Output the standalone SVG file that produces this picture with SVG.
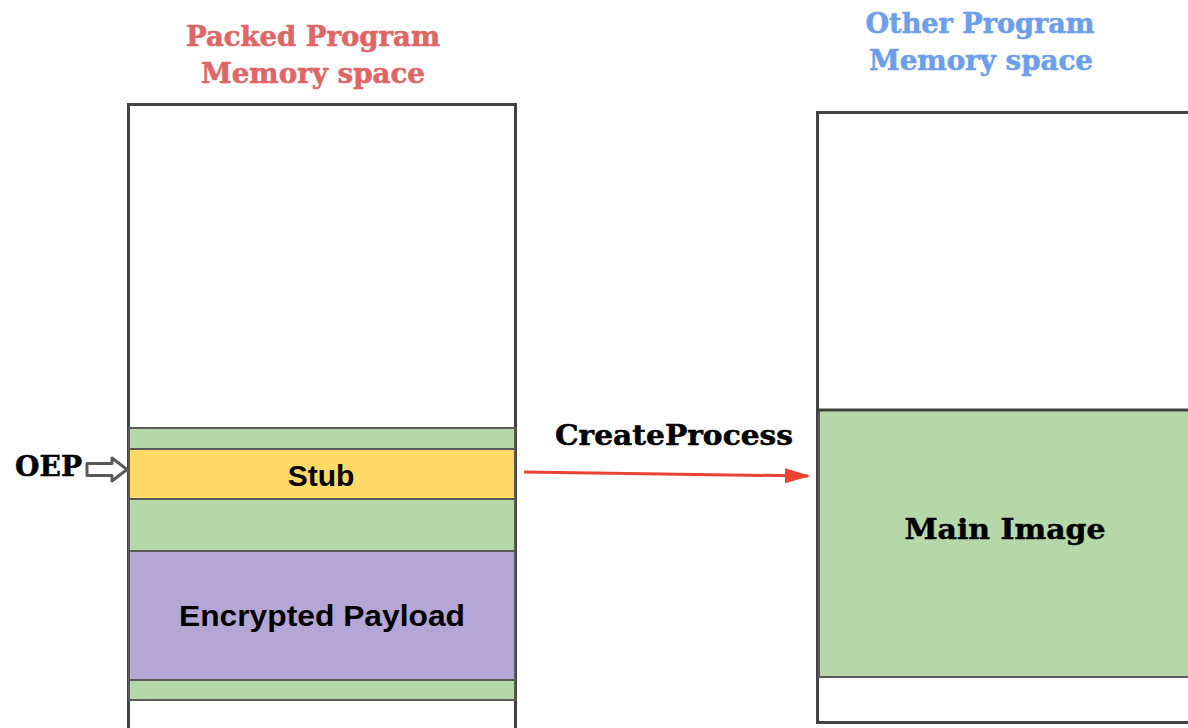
<svg xmlns="http://www.w3.org/2000/svg" width="1188" height="728" viewBox="0 0 1188 728">
<style>
.slab{font-family:"DejaVu Serif","Liberation Serif",serif;font-weight:bold}
.sans{font-family:"Liberation Sans",Arial,sans-serif;font-weight:bold;fill:#000}
.box{stroke:#434343;stroke-width:3}
.seg{stroke:#595959;stroke-width:2}
</style>
<defs>
<marker id="ah" viewBox="0 0 10 10" refX="9" refY="5" markerWidth="8.5" markerHeight="5" orient="auto" markerUnits="strokeWidth" preserveAspectRatio="none">
<path d="M0,0 L10,5 L0,10 z" fill="#ea4335"/>
</marker>
</defs>
<rect width="1188" height="728" fill="#fff"/>
<g id="title-left">
<text class="slab" x="313" y="46" text-anchor="middle" font-size="28" fill="#e06666" stroke="#e06666" stroke-width="0.6" textLength="254" lengthAdjust="spacingAndGlyphs">Packed Program</text>
<text class="slab" x="313" y="83" text-anchor="middle" font-size="28" fill="#e06666" stroke="#e06666" stroke-width="0.6" textLength="224" lengthAdjust="spacingAndGlyphs">Memory space</text>
</g>
<g id="title-right">
<text class="slab" x="980" y="33" text-anchor="middle" font-size="28" fill="#6d9eeb" stroke="#6d9eeb" stroke-width="0.6" textLength="229" lengthAdjust="spacingAndGlyphs">Other Program</text>
<text class="slab" x="981" y="70" text-anchor="middle" font-size="28" fill="#6d9eeb" stroke="#6d9eeb" stroke-width="0.6" textLength="224" lengthAdjust="spacingAndGlyphs">Memory space</text>
</g>
<g id="packed-memory">
<rect class="box" x="128.5" y="104.5" width="387" height="640" fill="#fff"/>
<rect class="seg" x="129" y="428" width="386" height="21" fill="#b6d7a8"/>
<rect class="seg" x="129" y="499" width="386" height="52" fill="#b6d7a8"/>
<rect class="seg" x="129" y="680" width="386" height="20" fill="#b6d7a8"/>
</g>
<g id="stub">
<rect class="seg" x="129" y="449" width="386" height="50" fill="#ffd966"/>
<text class="sans" x="321" y="486" text-anchor="middle" font-size="30">Stub</text>
</g>
<g id="payload">
<rect class="seg" x="129" y="551" width="386" height="129" fill="#b4a7d6"/>
<text class="sans" x="322" y="626" text-anchor="middle" font-size="29" textLength="286" lengthAdjust="spacingAndGlyphs">Encrypted Payload</text>
</g>
<g id="other-memory">
<rect class="box" x="817.5" y="112.5" width="400" height="610" fill="#fff"/>
</g>
<g id="main-image">
<rect class="seg" x="819" y="410" width="380" height="267" fill="#b6d7a8"/>
<line x1="817" y1="410" x2="1188" y2="410" stroke="#434343" stroke-width="3"/>
<text class="slab" x="1005" y="539" text-anchor="middle" font-size="28" fill="#000" stroke="#000" stroke-width="0.5" textLength="201" lengthAdjust="spacingAndGlyphs">Main Image</text>
</g>
<g id="oep">
<text class="slab" x="15" y="476" font-size="27" fill="#000" stroke="#000" stroke-width="0.5" textLength="67" lengthAdjust="spacingAndGlyphs">OEP</text>
<path d="M87,463.5 L112,463.5 L112,458 L127,469.5 L112,481 L112,475.5 L87,475.5 Z" fill="#fff" stroke="#595959" stroke-width="3" stroke-linejoin="round"/>
</g>
<g id="connectors">
<line x1="524" y1="472" x2="808" y2="476" stroke="#ea4335" stroke-width="3" marker-end="url(#ah)"/>
<text class="slab" x="674" y="445" text-anchor="middle" font-size="27" fill="#000" stroke="#000" stroke-width="0.5" textLength="238" lengthAdjust="spacingAndGlyphs">CreateProcess</text>
</g>
</svg>
